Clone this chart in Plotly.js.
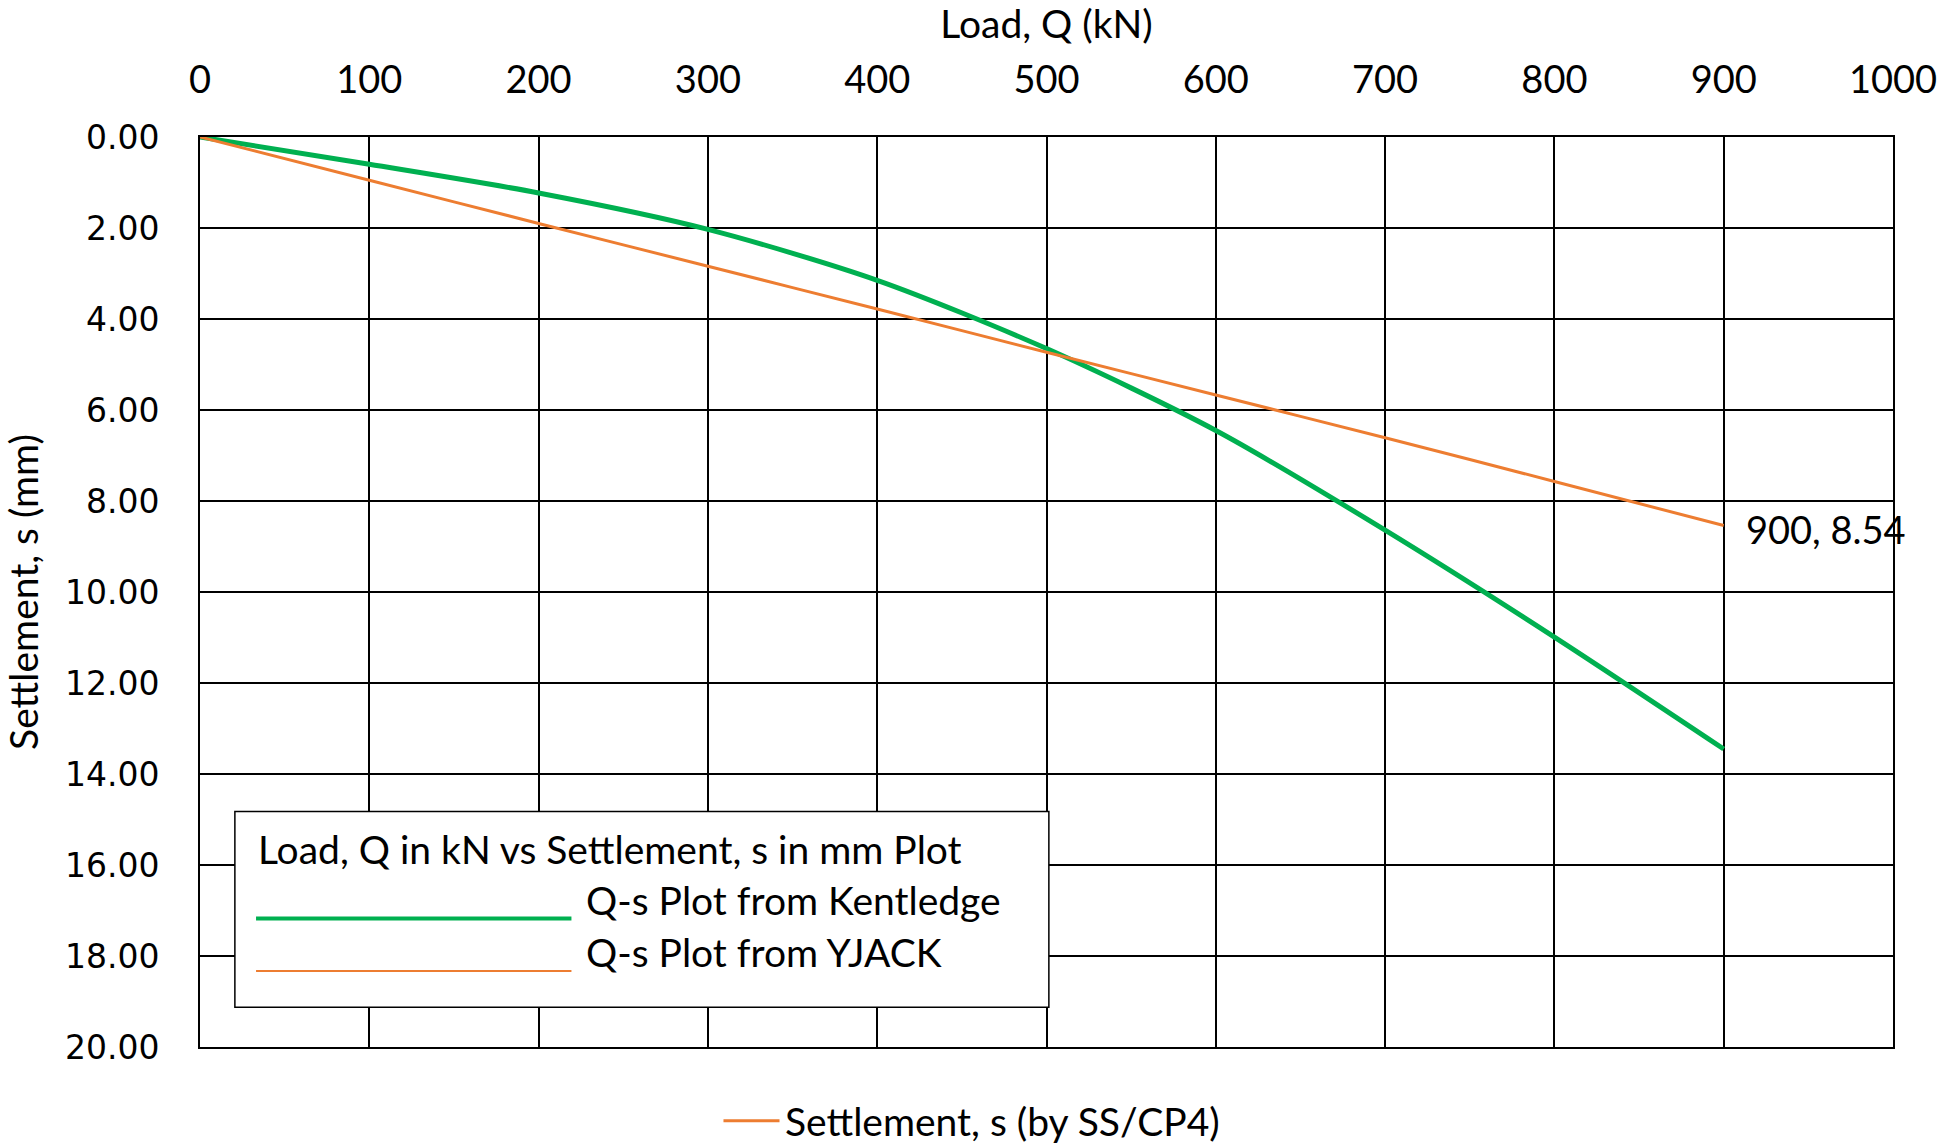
<!DOCTYPE html>
<html>
<head>
<meta charset="utf-8">
<script src="https://cdn.plot.ly/plotly-3.0.1.min.js"></script>
<style>html,body{margin:0;padding:0;background:#fff;}#chart{width:1955px;height:1143px;}</style>
</head>
<body>
<div id="chart"></div>
<script>
// Data
const loadQ = [0, 100, 200, 300, 400, 500, 600, 700, 800, 900];
const kentledgeS = [0, 0.60, 1.23, 2.03, 3.15, 4.65, 6.45, 8.64, 10.99, 13.45];
const yjackS = [0, 0.95, 1.90, 2.84, 3.78, 4.73, 5.67, 6.61, 7.57, 8.54];
const xTicks = [0, 100, 200, 300, 400, 500, 600, 700, 800, 900, 1000];
const yTicks = [0, 2, 4, 6, 8, 10, 12, 14, 16, 18, 20];
const seriesNames = ['Q-s Plot from Kentledge', 'Q-s Plot from YJACK', 'Settlement, s (by SS/CP4)'];
const boxTitle = 'Load, Q in kN vs Settlement, s in mm Plot';

const GREEN = '#00B050';
const ORANGE = '#ED7D31';
const FONT = 'Lato, "Open Sans", sans-serif';
const TXT = 39;

const traces = [
  {
    x: loadQ, y: kentledgeS, type: 'scatter', mode: 'lines',
    name: seriesNames[0], showlegend: false,
    line: {color: GREEN, width: 5, shape: 'spline', smoothing: 0.8},
    hoverinfo: 'x+y'
  },
  {
    x: loadQ, y: yjackS, type: 'scatter', mode: 'lines',
    name: seriesNames[2], showlegend: false,
    line: {color: ORANGE, width: 3, shape: 'spline', smoothing: 0.8},
    hoverinfo: 'x+y'
  }
];

const lastI = loadQ.length - 1;

const layout = {
  width: 1955, height: 1143,
  margin: {l: 200, r: 62, t: 137, b: 96},
  paper_bgcolor: '#fff', plot_bgcolor: '#fff',
  font: {family: FONT, color: '#000', size: TXT},
  showlegend: false,
  xaxis: {
    side: 'top', range: [0, 1000], tickvals: xTicks,
    ticktext: xTicks.map(String),
    showgrid: true, gridcolor: '#000', gridwidth: 1.5,
    showline: true, linecolor: '#000', linewidth: 2, mirror: true,
    zeroline: false, ticks: '', ticklabelstandoff: 27,
    tickfont: {family: FONT, size: 38, color: '#000'},
    title: {text: 'Load, Q (kN)', font: {family: FONT, size: TXT, color: '#000'}, standoff: 10}
  },
  yaxis: {
    range: [20, 0], tickvals: yTicks,
    ticktext: yTicks.map(v => v.toFixed(2)),
    showgrid: true, gridcolor: '#000', gridwidth: 1.5,
    showline: true, linecolor: '#000', linewidth: 2, mirror: true,
    zeroline: false, ticks: '', ticklabelstandoff: 32,
    tickfont: {family: '"DejaVu Sans", Verdana, sans-serif', size: 33, color: '#000'},
    title: {text: 'Settlement, s (mm)', font: {family: FONT, size: TXT, color: '#000'}, standoff: 14}
  },
  shapes: [
    {type: 'rect', xref: 'paper', yref: 'paper', x0: 0.0206, x1: 0.5014, y0: 0.0438, y1: 0.2588,
     line: {color: '#000', width: 1.5}, fillcolor: '#fff', layer: 'above'},
    {type: 'line', xref: 'paper', yref: 'paper', x0: 0.0331, x1: 0.2194, y0: 0.1411, y1: 0.1411,
     line: {color: GREEN, width: 4}, layer: 'above'},
    {type: 'line', xref: 'paper', yref: 'paper', x0: 0.0331, x1: 0.2194, y0: 0.0835, y1: 0.0835,
     line: {color: ORANGE, width: 2}, layer: 'above'},
    {type: 'line', xref: 'paper', yref: 'paper', x0: 0.3092, x1: 0.3423, y0: -0.081, y1: -0.081,
     line: {color: ORANGE, width: 3}, layer: 'above'}
  ],
  annotations: [
    {xref: 'paper', yref: 'paper', x: 0.0331, y: 0.2179, xanchor: 'left', yanchor: 'middle',
     text: boxTitle, showarrow: false, font: {family: FONT, size: TXT, color: '#000'}},
    {xref: 'paper', yref: 'paper', x: 0.2268, y: 0.1616, xanchor: 'left', yanchor: 'middle',
     text: seriesNames[0], showarrow: false, font: {family: FONT, size: TXT, color: '#000'}},
    {xref: 'paper', yref: 'paper', x: 0.2268, y: 0.1040, xanchor: 'left', yanchor: 'middle',
     text: seriesNames[1], showarrow: false, font: {family: FONT, size: TXT, color: '#000'}},
    {xref: 'paper', yref: 'paper', x: 0.3446, y: -0.081, xanchor: 'left', yanchor: 'middle',
     text: seriesNames[2], showarrow: false, font: {family: FONT, size: TXT, color: '#000'}},
    {xref: 'x', yref: 'y', x: loadQ[lastI], y: yjackS[lastI], xanchor: 'left', yanchor: 'middle',
     xshift: 20, yshift: -3,
     text: loadQ[lastI] + ', ' + yjackS[lastI].toFixed(2), showarrow: false,
     font: {family: FONT, size: 38, color: '#000'}}
  ]
};

Plotly.newPlot('chart', traces, layout, {displayModeBar: false, responsive: false});
</script>
</body>
</html>
